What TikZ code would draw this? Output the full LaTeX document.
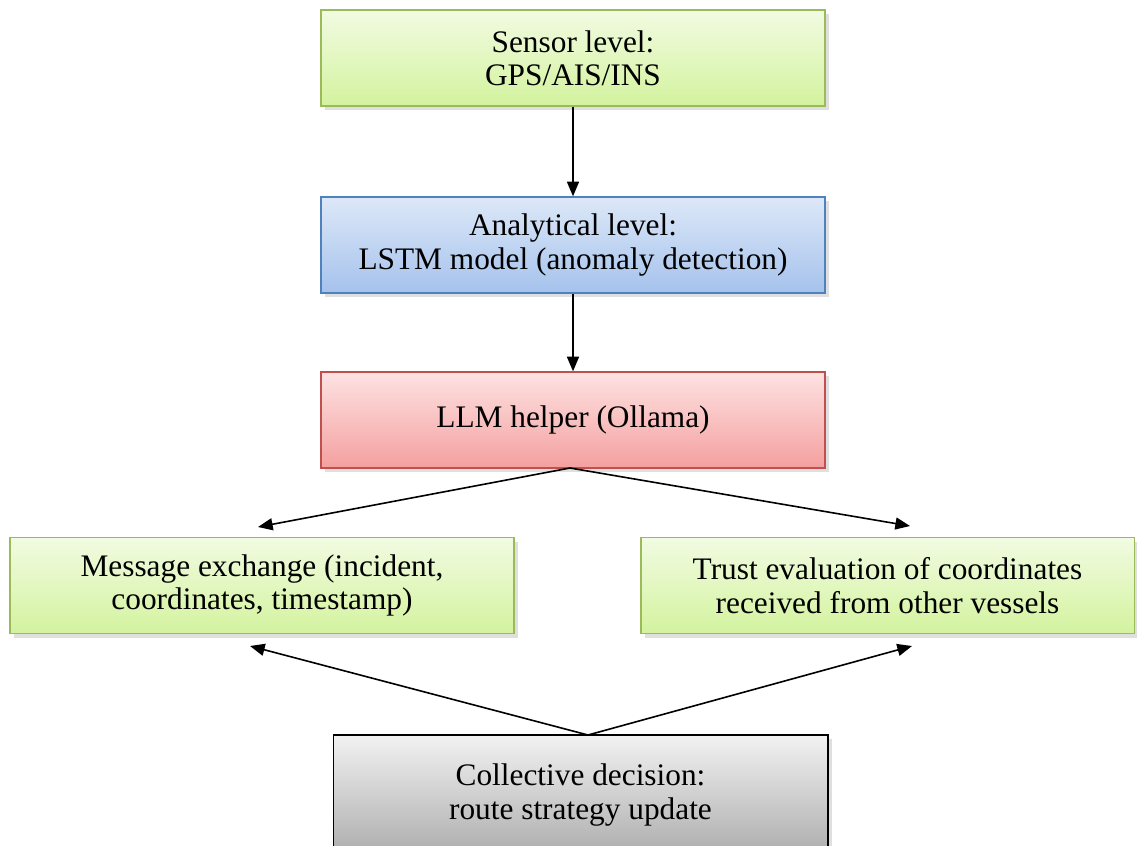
\documentclass[tikz,border=0pt]{standalone}
\usepackage{fontspec}
\setmainfont{Liberation Serif}
\usetikzlibrary{arrows.meta,shadows}
\definecolor{greenline}{HTML}{9BBB59}
\definecolor{greentop}{HTML}{F2FBE2}
\definecolor{greenbot}{HTML}{D3F39E}
\definecolor{blueline}{HTML}{4F81BD}
\definecolor{bluetop}{HTML}{DDE8F8}
\definecolor{bluebot}{HTML}{A5C2EC}
\definecolor{redline}{HTML}{C0504D}
\definecolor{redtop}{HTML}{FDE2E2}
\definecolor{redbot}{HTML}{F4A09F}
\definecolor{graytop}{HTML}{F2F2F2}
\definecolor{graybot}{HTML}{ADADAD}
\tikzset{
  levelbox/.style={draw, line width=1pt, minimum width=378pt, minimum height=72pt,
    align=center, font=\fontsize{23.5}{25}\selectfont,
    drop shadow={shadow xshift=3pt, shadow yshift=-3pt, fill=black!25}},
  greenbox/.style={levelbox, draw=greenline, top color=greentop, bottom color=greenbot},
  bluebox/.style={levelbox, draw=blueline, top color=bluetop, bottom color=bluebot},
  redbox/.style={levelbox, draw=redline, top color=redtop, bottom color=redbot},
  graybox/.style={levelbox, draw=black, top color=graytop, bottom color=graybot},
  link/.style={-{Triangle[length=11pt,width=9pt]}, line width=1.2pt}
}
\begin{document}
\begin{tikzpicture}[x=0.75pt, y=-0.75pt]
  \clip (0,0) rectangle (1137,845);
  \useasboundingbox (0,0) rectangle (1137,845);
  % levels
  \node[greenbox] (sensor) at (573,58) {Sensor level:\\GPS/AIS/INS};
  \node[bluebox] (analytic) at (573,245) {Analytical level:\\LSTM model (anomaly detection)};
  \node[redbox] (llm) at (573,420) {LLM helper (Ollama)};
  \node[greenbox] (msg) at (262,585.5) {Message exchange (incident,\\coordinates, timestamp)};
  \node[greenbox, minimum width=370pt] (trust) at (887.5,585.5) {Trust evaluation of coordinates\\received from other vessels};
  \node[graybox, minimum width=371pt, minimum height=90pt] (decision) at (580.5,795) {Collective decision:\\route strategy update};
  % arrow ends
  \coordinate (llmout) at (570,468);
  \coordinate (msgin) at (258,527);
  \coordinate (trustin) at (910,526);
  \coordinate (decout) at (588,735);
  \coordinate (msgback) at (250,646);
  \coordinate (trustback) at (912,646);
  \draw[link] (sensor) -- (analytic);
  \draw[link] (analytic) -- (llm);
  \draw[link] (llmout) -- (msgin);
  \draw[link] (llmout) -- (trustin);
  \draw[link] (decout) -- (msgback);
  \draw[link] (decout) -- (trustback);
\end{tikzpicture}
\end{document}
